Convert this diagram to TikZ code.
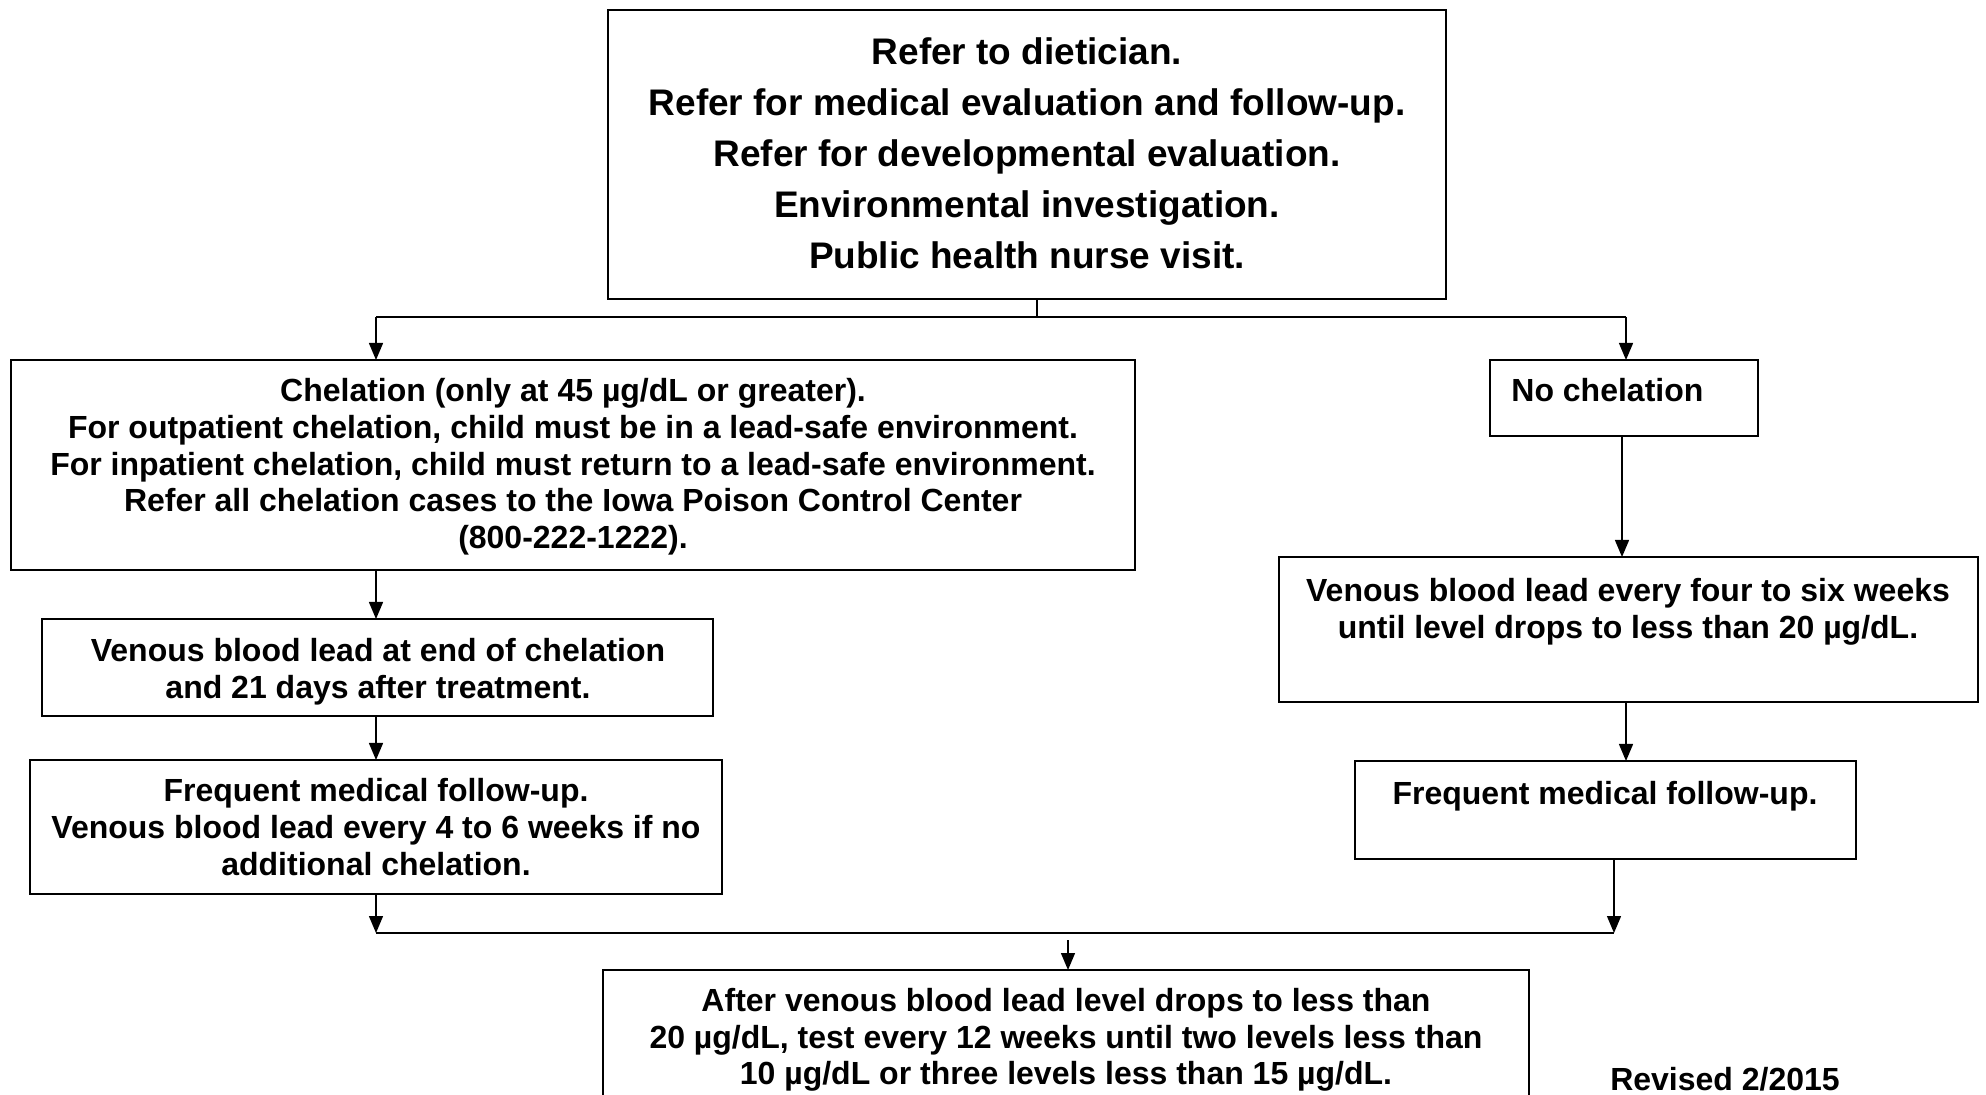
\documentclass[tikz,border=0pt]{standalone}
\usepackage{fontspec}
\setmainfont{Liberation Sans}
\usetikzlibrary{arrows.meta}
\begin{document}
\begin{tikzpicture}[x=0.5pt,y=-0.5pt,
  box/.style={draw=black, line width=0.7pt, rectangle, inner sep=0pt, outer sep=0pt},
  txt/.style={align=center, inner sep=0pt, font=\bfseries\fontsize{16}{18.35}\selectfont},
  toptxt/.style={align=center, inner sep=0pt, font=\bfseries\fontsize{18.5}{25.5}\selectfont},
  arr/.style={line width=0.7pt, -{Triangle[length=8.5pt,width=7pt]}},
  ln/.style={line width=0.7pt},
  bus/.style={line width=1.4pt}]
\useasboundingbox (0,0) rectangle (1986,1095);
% boxes
\node[box, minimum width=419pt, minimum height=144.5pt] (top) at (1027,154.5) {};
\node[box, minimum width=562pt, minimum height=105pt] (chel) at (573,465) {};
\node[box, minimum width=134pt, minimum height=38pt] (noch) at (1624,398) {};
\node[box, minimum width=335.5pt, minimum height=48.5pt] (ven1) at (377.5,667.5) {};
\node[box, minimum width=346pt, minimum height=67pt] (freq1) at (376,827) {};
\node[box, minimum width=349.5pt, minimum height=72.5pt] (ven2) at (1628.5,629.5) {};
\node[box, minimum width=250.5pt, minimum height=49pt] (freq2) at (1605.5,810) {};
\node[box, minimum width=463pt, minimum height=70pt] (fin) at (1066,1040) {};
% texts
\node[toptxt] (ttop) at (1027,153) {Refer to dietician.\\Refer for medical evaluation and follow-up.\\Refer for developmental evaluation.\\Environmental investigation.\\Public health nurse visit.};
\node[txt] (tchel) at (573,467) {Chelation (only at 45 µg/dL or greater).\\For outpatient chelation, child must be in a lead-safe environment.\\For inpatient chelation, child must return to a lead-safe environment.\\Refer all chelation cases to the Iowa Poison Control Center\\(800-222-1222).};
\node[txt, anchor=west] (tnoch) at (1511,390) {No chelation};
\node[txt] (tven1) at (378,672) {Venous blood lead at end of chelation\\and 21 days after treatment.};
\node[txt] (tfreq1) at (376,827) {Frequent medical follow-up.\\Venous blood lead every 4 to 6 weeks if no\\additional chelation.};
\node[txt] (tven2) at (1628,612) {Venous blood lead every four to six weeks\\until level drops to less than 20 µg/dL.};
\node[txt] (tfreq2) at (1605,796) {Frequent medical follow-up.};
\node[txt] (tfin) at (1066,1040) {After venous blood lead level drops to less than\\20 µg/dL, test every 12 weeks until two levels less than\\10 µg/dL or three levels less than 15 µg/dL.};
\node[txt] (trev) at (1725,1079) {Revised 2/2015};
% connectors
\coordinate (s1) at (1037,317);
\coordinate (bl) at (376,317);
\coordinate (br) at (1626,317);
\draw[ln] (top.south -| s1) -- (s1);
\draw[bus] (bl) -- (br);
\draw[arr] (bl) -- (bl |- chel.north);
\draw[arr] (br) -- (br |- noch.north);
\draw[arr] (bl |- chel.south) -- (bl |- ven1.north);
\draw[arr] (bl |- ven1.south) -- (bl |- freq1.north);
\coordinate (jl) at (376,933);
\coordinate (jr) at (1614,933);
\coordinate (jc) at (1068,940);
\draw[arr] (bl |- freq1.south) -- (jl);
\draw[ln] (1622,436) coordinate (n1) -- (n1 |- noch.south);
\draw[arr] (n1 |- noch.south) -- (n1 |- ven2.north);
\draw[arr] (br |- ven2.south) -- (br |- freq2.north);
\draw[arr] (jr |- freq2.south) -- (jr);
\draw[bus] (jl) -- (jr);
\draw[arr] (jc) -- (jc |- fin.north);
\end{tikzpicture}
\end{document}
